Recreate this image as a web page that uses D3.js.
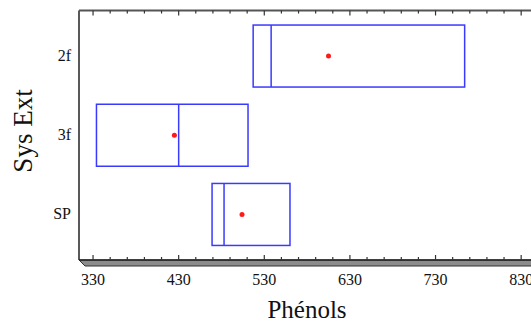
<!DOCTYPE html>
<html>
<head>
<meta charset="utf-8">
<script src="https://cdn.jsdelivr.net/npm/d3@7"></script>
<style>
  html, body { margin: 0; padding: 0; background: #fff; }
  svg { display: block; }
  text { font-family: "Liberation Serif", "Times New Roman", serif; fill: #111; }
</style>
</head>
<body>
<svg id="chart" width="531" height="322"></svg>
<script>
// Phenol content per extraction system: box (Q1, median, Q3) and mean
const categories = ["2f", "3f", "SP"];
const q1Values     = [517, 334, 469];
const medianValues = [538, 430, 483];
const q3Values     = [764, 511, 560];
const meanValues   = [605, 425, 504];
const xTickValues  = [330, 430, 530, 630, 730, 830];
const xDomain      = [313.6, 852];

const svg = d3.select("#chart");
const plotLeft = 79, plotRight = 540, plotTop = 10.5, plotBottom = 260;

const x = d3.scaleLinear().domain(xDomain).range([plotLeft, plotRight]);
const y = d3.scalePoint().domain(categories).range([plotTop, plotBottom]).padding(0.575);
const boxH = 62;

const minorTicks = d3.range(330, 852, 20).filter(v => !xTickValues.includes(v));

// 3D-style slab under the bottom axis
svg.append("path")
  .attr("d", `M${plotLeft},${plotBottom} L${plotLeft + 6},${plotBottom + 6} L${plotRight},${plotBottom + 6} L${plotRight},${plotBottom} Z`)
  .attr("fill", "#8c8c8c").attr("stroke", "#333").attr("stroke-width", 1);

// frame: left, top and bottom edges
svg.append("line").attr("x1", plotLeft).attr("x2", plotLeft).attr("y1", plotTop).attr("y2", plotBottom)
  .attr("stroke", "#222").attr("stroke-width", 1.5);
svg.append("line").attr("x1", plotLeft).attr("x2", plotRight).attr("y1", plotTop).attr("y2", plotTop)
  .attr("stroke", "#555").attr("stroke-width", 2);
svg.append("line").attr("x1", plotLeft).attr("x2", plotRight).attr("y1", plotBottom).attr("y2", plotBottom)
  .attr("stroke", "#222").attr("stroke-width", 1.5);

// inward ticks on the top and bottom edges
const drawTicks = (vals, len) => {
  svg.append("g").selectAll("line").data(vals).join("line")
    .attr("x1", d => x(d)).attr("x2", d => x(d))
    .attr("y1", plotBottom).attr("y2", plotBottom - len)
    .attr("stroke", "#333").attr("stroke-width", 1.2);
  svg.append("g").selectAll("line").data(vals).join("line")
    .attr("x1", d => x(d)).attr("x2", d => x(d))
    .attr("y1", plotTop).attr("y2", plotTop + len)
    .attr("stroke", "#333").attr("stroke-width", 1.2);
};
drawTicks(xTickValues, 5);
drawTicks(minorTicks, 3);

// x tick labels
svg.append("g").selectAll("text").data(xTickValues).join("text")
  .attr("x", d => x(d)).attr("y", 285)
  .attr("text-anchor", "middle").attr("font-size", 16)
  .text(d => d);

// y category labels
svg.append("g").selectAll("text").data(categories).join("text")
  .attr("x", 71).attr("y", d => y(d) + 5)
  .attr("text-anchor", "end").attr("font-size", 16)
  .text(d => d);

// axis titles
svg.append("text").attr("x", 307).attr("y", 318)
  .attr("text-anchor", "middle").attr("font-size", 25)
  .text("Phénols");
svg.append("text")
  .attr("transform", "translate(32,131) rotate(-90)")
  .attr("text-anchor", "middle").attr("font-size", 27)
  .text("Sys Ext");

// boxes
const rows = categories.map((c, i) => ({
  c, q1: q1Values[i], med: medianValues[i], q3: q3Values[i], mean: meanValues[i]
}));
const g = svg.append("g");
g.selectAll("rect").data(rows).join("rect")
  .attr("x", d => x(d.q1)).attr("y", d => y(d.c) - boxH / 2)
  .attr("width", d => x(d.q3) - x(d.q1)).attr("height", boxH)
  .attr("fill", "none").attr("stroke", "#3a3aff").attr("stroke-width", 1.5);
g.selectAll("line").data(rows).join("line")
  .attr("x1", d => x(d.med)).attr("x2", d => x(d.med))
  .attr("y1", d => y(d.c) - boxH / 2).attr("y2", d => y(d.c) + boxH / 2)
  .attr("stroke", "#3a3aff").attr("stroke-width", 1.5);
g.selectAll("circle").data(rows).join("circle")
  .attr("cx", d => x(d.mean)).attr("cy", d => y(d.c))
  .attr("r", 2.5).attr("fill", "#ff1a1a");
</script>
</body>
</html>
